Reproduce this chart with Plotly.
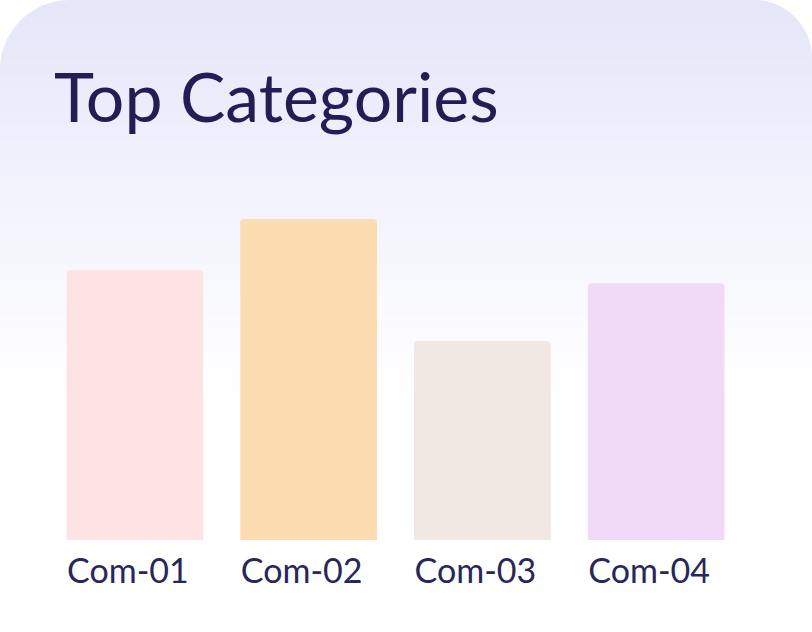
import math
import plotly.graph_objects as go

categories = ["Com-01", "Com-02", "Com-03", "Com-04"]
values = [84, 100, 62, 80]
bar_colors = ["#fde3e3", "#fddcb2", "#f2e8e3", "#f1daf7"]
title_text = "Top Categories"

W, H = 812, 632

def px_x(x):
    return x / W

def px_y(y):
    return 1 - y / H

fig = go.Figure(go.Bar(
    x=categories, y=values,
    marker=dict(color=bar_colors, line=dict(width=0), cornerradius=4),
    hoverinfo="skip",
))

# background gradient bands (lavender top -> white bottom)
stops = [(0, (229, 231, 249)), (150, (238, 240, 252)), (260, (246, 247, 253)),
         (340, (252, 252, 255)), (400, (255, 255, 255)), (632, (255, 255, 255))]
shapes = []
n = 80
for i in range(n):
    y0 = i * 400 / n
    y1 = (i + 1) * 400 / n + 0.6
    ym = (y0 + y1) / 2
    for (a, ca), (b, cb) in zip(stops[:-1], stops[1:]):
        if a <= ym <= b:
            t = (ym - a) / (b - a)
            c = tuple(round(ca[k] + (cb[k] - ca[k]) * t) for k in range(3))
            break
    shapes.append(dict(type="rect", xref="paper", yref="paper",
                       x0=0, x1=1, y0=px_y(y1), y1=px_y(y0),
                       fillcolor="rgb(%d,%d,%d)" % c, line=dict(width=0), layer="below"))

def corner(cx, cy, sx, sy, r):
    pts = []
    ox, oy = cx + sx * r, cy + sy * r
    for k in range(0, 25):
        a = math.pi / 2 * k / 24
        pts.append((ox - sx * r * math.cos(a), oy - sy * r * math.sin(a)))
    path = "M %f,%f " % (px_x(cx), px_y(cy))
    for (x, y) in pts:
        path += "L %f,%f " % (px_x(x), px_y(y))
    path += "Z"
    return dict(type="path", xref="paper", yref="paper", path=path,
                fillcolor="white", line=dict(width=0), layer="below")

shapes.append(corner(0, 0, 1, 1, 70))
shapes.append(corner(W, 0, -1, 1, 58))

fig.update_layout(
    width=W, height=H,
    margin=dict(l=0, r=0, t=0, b=0),
    paper_bgcolor="white",
    plot_bgcolor="rgba(0,0,0,0)",
    shapes=shapes,
    showlegend=False,
    bargap=0.213,
    xaxis=dict(domain=[48 / W, 743 / W], showgrid=False, zeroline=False, showline=False,
               ticks="", tickfont=dict(family="Lato", size=34, color="#27275c"),
               ticklabelstandoff=8, ticklabelshift=-7, automargin=False, fixedrange=True),
    yaxis=dict(domain=[px_y(540), px_y(219)], range=[0, 100], visible=False,
               automargin=False, fixedrange=True),
    annotations=[dict(text=title_text, xref="paper", yref="paper",
                      x=px_x(52), y=px_y(95), xanchor="left", yanchor="middle",
                      showarrow=False,
                      font=dict(family="Lato", size=68, color="#211d55"))],
)

fig.write_html("out.html", config={"displayModeBar": False},
               post_script="document.body.style.margin='0';document.body.style.overflow='hidden';")
